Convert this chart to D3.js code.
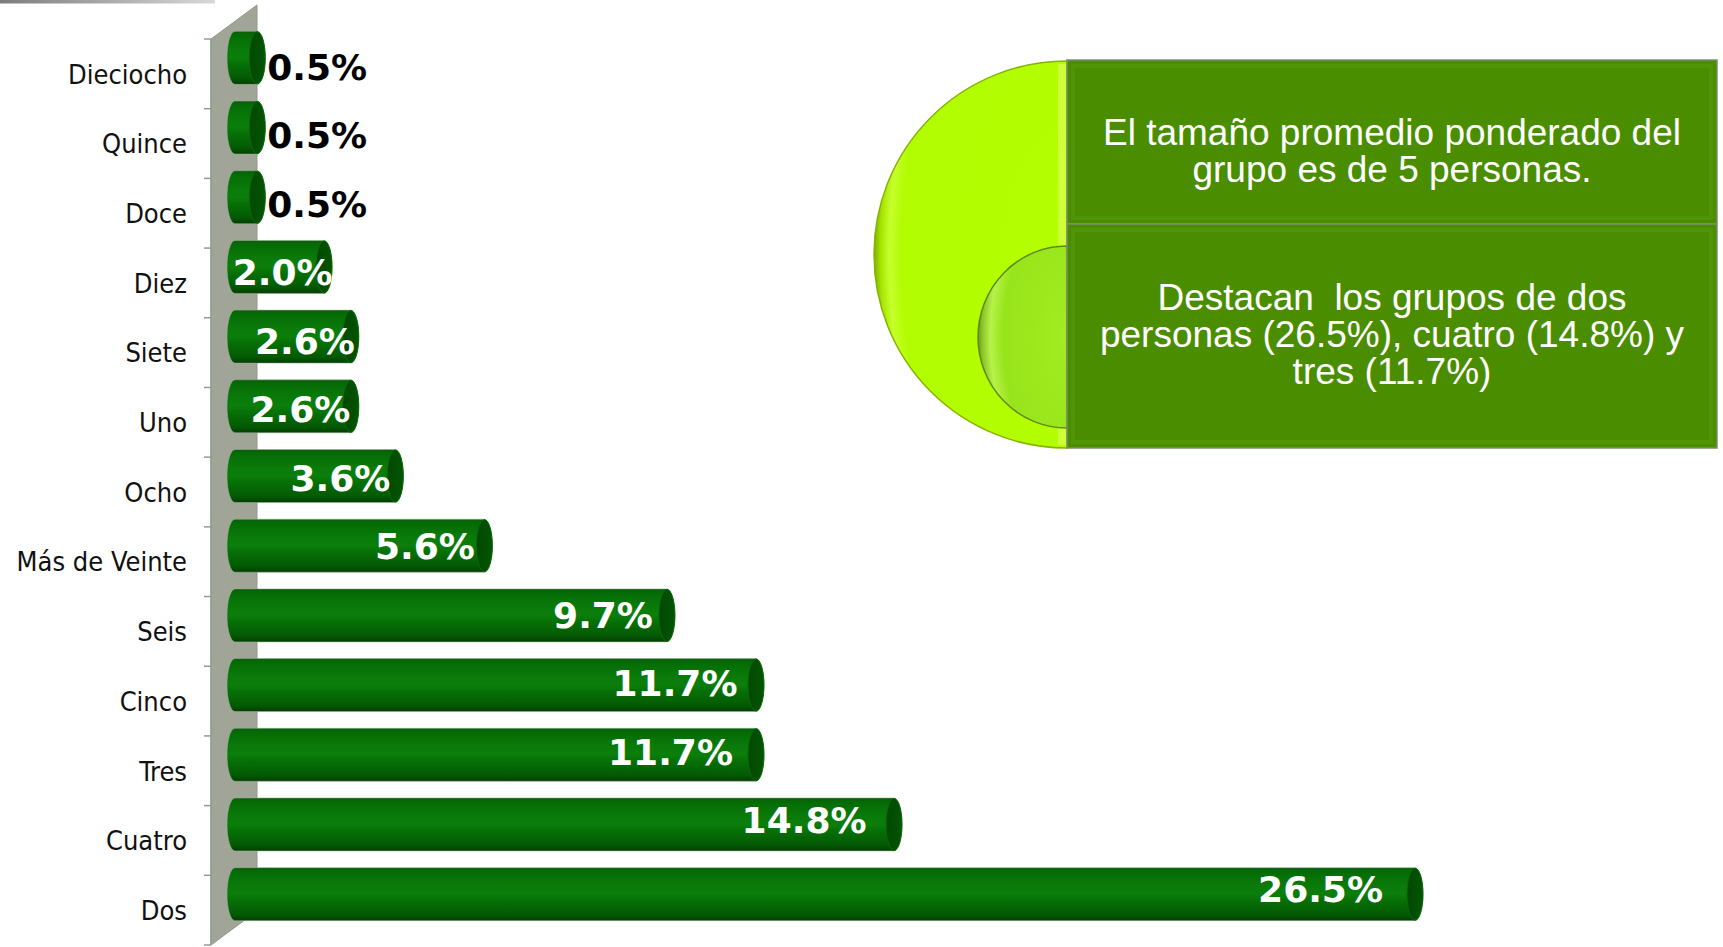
<!DOCTYPE html>
<html>
<head>
<meta charset="utf-8">
<script src="https://cdn.jsdelivr.net/npm/d3@7"></script>
<style>
  body { margin: 0; background: #fff; }
  svg { display: block; }
</style>
</head>
<body>
<div id="chart"></div>
<script>
// Data (top to bottom)
const categories = ['Dieciocho', 'Quince', 'Doce', 'Diez', 'Siete', 'Uno', 'Ocho',
  'Más de Veinte', 'Seis', 'Cinco', 'Tres', 'Cuatro', 'Dos'];
const values = [0.5, 0.5, 0.5, 2.0, 2.6, 2.6, 3.6, 5.6, 9.7, 11.7, 11.7, 14.8, 26.5];

const noteTop = ['El tamaño promedio ponderado del', 'grupo es de 5 personas.'];
const noteBottom = ['Destacan  los grupos de dos', 'personas (26.5%), cuatro (14.8%) y', 'tres (11.7%)'];

// Size
const width = 1723, height = 947;

const svg = d3.select('#chart').append('svg')
  .attr('width', width)
  .attr('height', height);

const defs = svg.append('defs');

// bar body gradient (cylinder look)
const barGrad = defs.append('linearGradient')
  .attr('id', 'barGrad').attr('x1', 0).attr('y1', 0).attr('x2', 0).attr('y2', 1);
[[0, '#0b5c0b'], [0.07, '#056b05'], [0.35, '#0a7b0a'], [0.5, '#0b7e0b'], [0.62, '#067006'],
 [0.88, '#045a04'], [1, '#023e02']].forEach(s => {
  barGrad.append('stop').attr('offset', s[0]).attr('stop-color', s[1]);
});

const capGrad = defs.append('linearGradient')
  .attr('id', 'capGrad').attr('x1', 0).attr('y1', 0).attr('x2', 1).attr('y2', 0);
capGrad.append('stop').attr('offset', 0).attr('stop-color', '#024802');
capGrad.append('stop').attr('offset', 1).attr('stop-color', '#035503');

const topLine = defs.append('linearGradient')
  .attr('id', 'topLine').attr('x1', 0).attr('y1', 0).attr('x2', 1).attr('y2', 0);
topLine.append('stop').attr('offset', 0).attr('stop-color', '#7c7c7c');
topLine.append('stop').attr('offset', 1).attr('stop-color', '#d8d8d8');

const bigGrad = defs.append('radialGradient')
  .attr('id', 'bigGrad').attr('cx', 1).attr('cy', 0.5).attr('r', 1);
[[0, '#b4ff00'], [0.86, '#b2fc02'], [0.92, '#c6ff2c'], [0.965, '#a6e600'], [1, '#7fae00']].forEach(s => {
  bigGrad.append('stop').attr('offset', s[0]).attr('stop-color', s[1]);
});

const smallGrad = defs.append('radialGradient')
  .attr('id', 'smallGrad').attr('cx', 1).attr('cy', 0.5).attr('r', 1);
[[0, '#a2ec20'], [0.72, '#98e41a'], [0.86, '#b6f24a'], [0.95, '#8cc62a'], [1, '#6c9a1c']].forEach(s => {
  smallGrad.append('stop').attr('offset', s[0]).attr('stop-color', s[1]);
});

// Scales
const x = d3.scaleLinear().domain([0, 26.5]).range([235, 1415]);
const y = d3.scaleBand().domain(categories).range([39, 945]);

const axisX = 211, wallRight = 257, wallDepth = 34;
const barRy = 26.5, capRx = 8, barLift = 16;
const barCy = d => y(d) + y.bandwidth() / 2 - barLift;

// grey stub at the top-left corner
svg.append('rect')
  .attr('x', 0).attr('y', 0).attr('width', 215).attr('height', 3.5)
  .attr('fill', 'url(#topLine)');

// back wall
svg.append('path')
  .attr('d', `M${axisX},${y.range()[0]} L${wallRight},${y.range()[0] - wallDepth} ` +
    `L${wallRight},${y.range()[1] - wallDepth} L${axisX},${y.range()[1]} Z`)
  .attr('fill', '#a0a597')
  .attr('stroke', '#8e9b88')
  .attr('stroke-width', 1);

// ticks at band boundaries
const boundaries = categories.map(c => y(c)).concat([y.range()[1]]);
svg.selectAll('.tick-mark')
  .data(boundaries)
  .join('line')
  .attr('class', 'tick-mark')
  .attr('x1', axisX - 7).attr('x2', axisX)
  .attr('y1', d => d).attr('y2', d => d)
  .attr('stroke', '#8ea08a').attr('stroke-width', 1.5);

svg.append('line')
  .attr('x1', axisX).attr('x2', axisX)
  .attr('y1', y.range()[0]).attr('y2', y.range()[1])
  .attr('stroke', '#8ea08a').attr('stroke-width', 1.5);

// category labels
const yAxis = svg.append('g')
  .attr('transform', `translate(${axisX},0)`)
  .call(d3.axisLeft(y).tickSize(0).tickPadding(24));
yAxis.select('.domain').remove();
yAxis.selectAll('text')
  .attr('font-family', "'DejaVu Sans Condensed', 'DejaVu Sans', sans-serif")
  .style('font-stretch', 'condensed')
  .attr('font-size', 27)
  .attr('fill', '#111')
  .attr('dy', '0.36em');

// bars
const bars = svg.selectAll('.bar')
  .data(categories)
  .join('g')
  .attr('class', 'bar');

bars.append('path')
  .attr('d', (d, i) => {
    const x0 = x(0), x1 = x(values[i]);
    const top = barCy(d) - barRy, bottom = barCy(d) + barRy;
    return `M${x0},${top} L${x1},${top} A${capRx},${barRy} 0 0 1 ${x1},${bottom} ` +
      `L${x0},${bottom} A${capRx},${barRy} 0 0 1 ${x0},${top} Z`;
  })
  .attr('fill', 'url(#barGrad)')
  .attr('stroke', '#98b098')
  .attr('stroke-opacity', 0.55)
  .attr('stroke-width', 1);

bars.append('ellipse')
  .attr('cx', (d, i) => x(values[i]))
  .attr('cy', d => barCy(d))
  .attr('rx', capRx)
  .attr('ry', barRy - 0.5)
  .attr('fill', 'url(#capGrad)')
  .attr('stroke', '#0b6a0b')
  .attr('stroke-width', 1);

// value labels (Excel's 3D placement drifts a little down the chart)
bars.append('text')
  .attr('x', (d, i) => values[i] < 1 ? x(values[i]) + 10 : x(values[i]) + 22 - 4.5 * i)
  .attr('y', (d, i) => barCy(d) + 22 - 1.2 * i)
  .attr('text-anchor', (d, i) => values[i] < 1 ? 'start' : 'end')
  .attr('font-family', "'DejaVu Sans', Verdana, sans-serif")
  .attr('font-weight', 'bold')
  .attr('font-size', 36)
  .attr('fill', (d, i) => values[i] < 1 ? '#000' : '#fff')
  .text((d, i) => d3.format('.1f')(values[i]) + '%');

// note panel
const panelX = 1067, panelRight = 1717;
const boxes = [
  { y: 60, h: 164, lines: noteTop, shift: 9 },
  { y: 224, h: 224, lines: noteBottom, shift: -2 }
];

svg.append('path')
  .attr('d', `M${panelX},61 A193,193.5 0 0 0 ${panelX},448 Z`)
  .attr('fill', 'url(#bigGrad)')
  .attr('stroke', '#86b400')
  .attr('stroke-width', 1.5);

svg.append('rect')
  .attr('x', panelX - 9).attr('y', 64).attr('width', 8).attr('height', 381)
  .attr('fill', '#e4ff66').attr('opacity', 0.55);

svg.append('path')
  .attr('d', `M${panelX},246 A89,91 0 0 0 ${panelX},428 Z`)
  .attr('fill', 'url(#smallGrad)')
  .attr('stroke', '#5e8a18')
  .attr('stroke-width', 1.5);

const boxG = svg.selectAll('.note')
  .data(boxes)
  .join('g')
  .attr('class', 'note');

boxG.append('rect')
  .attr('x', panelX).attr('y', d => d.y)
  .attr('width', panelRight - panelX).attr('height', d => d.h)
  .attr('fill', '#4a8e00')
  .attr('stroke', '#7d8f6c')
  .attr('stroke-width', 1.5);

// soft bevel inside the boxes
boxG.append('rect')
  .attr('x', panelX + 6).attr('y', d => d.y + 6)
  .attr('width', panelRight - panelX - 12).attr('height', d => d.h - 12)
  .attr('fill', 'none')
  .attr('stroke', '#55990a')
  .attr('stroke-width', 4)
  .attr('stroke-opacity', 0.6);

boxG.each(function(d) {
  const fs = 37, lh = 37;
  const cy = d.y + d.h / 2 + d.shift;
  const first = cy - (d.lines.length - 1) * lh / 2 + fs * 0.35;
  d3.select(this).append('text')
    .attr('text-anchor', 'middle')
    .attr('font-family', "'Liberation Sans', Arial, sans-serif")
    .attr('font-size', fs)
    .attr('fill', '#fff')
    .style('white-space', 'pre')
    .selectAll('tspan')
    .data(d.lines)
    .join('tspan')
    .attr('x', (panelX + panelRight) / 2)
    .attr('y', (l, i) => first + i * lh)
    .text(l => l);
});
</script>
</body>
</html>
